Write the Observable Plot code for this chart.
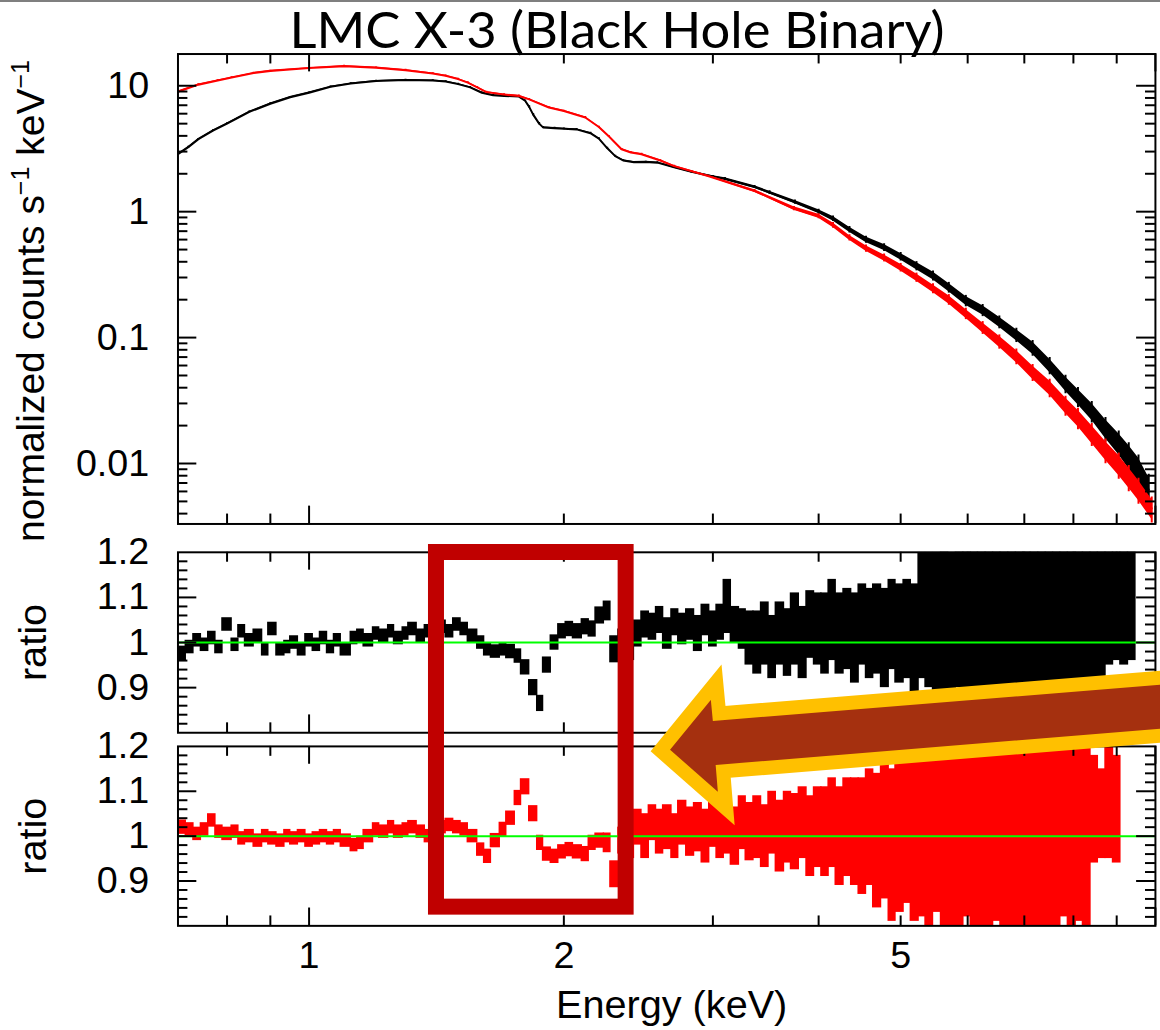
<!DOCTYPE html>
<html><head><meta charset="utf-8">
<script src="https://cdn.jsdelivr.net/npm/d3@7"></script>
<script src="https://cdn.jsdelivr.net/npm/@observablehq/plot@0.6"></script>
<style>
html,body{margin:0;padding:0;background:#fff;overflow:hidden;width:1160px;height:1030px;}
#fig{position:relative;width:1160px;height:1030px;overflow:hidden;}
#fig > svg{position:absolute;left:0;}
</style></head><body><div id="fig"></div>
<script>
// ---------------- text ----------------
const TITLE = "LMC X-3 (Black Hole Binary)";
const Y_TITLE_TOP_PARTS = ["normalized counts s", "\u22121", " keV", "\u22121"];
const Y_TITLE_RATIO = "ratio";
const X_TITLE = "Energy (keV)";

// ---------------- axes ----------------
const X_DOMAIN = [0.7, 10];
const X_MAJOR_TICKS = [1, 10];
const X_MINOR_TICKS = [0.8, 0.9, 2, 3, 4, 5, 6, 7, 8, 9];
const X_TICK_LABELS = [1, 2, 5];
const SPEC_DOMAIN = [0.00331, 17.86];
const SPEC_TICK_LABELS = [0.01, 0.1, 1, 10];
const RATIO_DOMAIN = [0.8, 1.2];
const RATIO_MAJOR_TICKS = [0.9, 1, 1.1];
const RATIO_TICK_LABELS = [0.9, 1, 1.1, 1.2];

// ---------------- spectra (normalized counts s^-1 keV^-1) ----------------
const SPEC_BLACK_E = [0.70,0.72,0.74,0.77,0.80,0.85,0.90,0.95,1.00,1.06,1.12,1.20,1.30,1.40,1.45,1.50,1.55,1.60,1.65,1.70,
  1.77,1.80,1.82,1.84,1.87,1.89,1.95,2.00,2.07,2.15,2.20,2.25,2.30,2.35,2.42,2.50,2.58,2.70,2.83,3.00,
  3.10,3.36,3.50,3.75,4.00,4.16,4.35,4.55,4.78,5.00,5.22,5.46,5.70,5.97,6.25,6.54,6.85,7.16,7.50,7.83,
  8.10,8.41,8.73,9.05,9.30,9.55,9.82];
const SPEC_BLACK_V = [2.86,3.25,3.76,4.4,5.0,6.2,7.2,8.1,8.8,9.8,10.4,10.9,11.1,11.0,10.8,10.3,9.7,8.8,8.4,8.3,
  8.2,7.6,6.8,5.9,5.0,4.67,4.6,4.55,4.5,4.2,3.8,3.2,2.76,2.55,2.47,2.48,2.45,2.25,2.07,1.9,
  1.82,1.57,1.42,1.19,1.0,0.88,0.72,0.60,0.52,0.44,0.37,0.31,0.25,0.196,0.165,0.133,0.105,0.083,0.060,0.043,
  0.034,0.026,0.019,0.0145,0.0115,0.009,0.0062];
const SPEC_BLACK_ERR = [.012,.012,.012,.012,.012,.012,.012,.012,.012,.012,.012,.012,.012,.012,.012,.012,.012,.012,.012,.012,
  .012,.012,.015,.015,.015,.012,.012,.012,.012,.012,.012,.012,.012,.012,.012,.012,.012,.015,.015,.015,
  .02,.022,.025,.03,.035,.04,.045,.05,.055,.06,.065,.07,.075,.08,.085,.09,.10,.11,.12,.13,
  .14,.15,.17,.19,.21,.23,.25];

const SPEC_RED_E = [0.70,0.74,0.78,0.81,0.86,0.90,1.00,1.10,1.20,1.30,1.40,1.45,1.50,1.54,1.58,1.62,1.70,1.77,1.82,1.92,
  2.00,2.12,2.20,2.26,2.34,2.40,2.47,2.60,2.70,2.96,3.36,3.74,4.00,4.16,4.35,4.55,4.78,5.00,5.22,5.46,
  5.70,5.97,6.25,6.54,6.85,7.16,7.50,7.83,8.10,8.41,8.73,9.05,9.30,9.55,9.90];
const SPEC_RED_V = [8.96,10.2,11.0,11.6,12.6,13.1,13.8,14.3,13.9,13.3,12.5,12.0,11.3,10.6,9.7,8.9,8.5,8.3,7.8,6.72,
  6.3,5.6,4.7,3.97,3.13,2.95,2.86,2.55,2.30,1.92,1.46,1.06,0.92,0.78,0.62,0.51,0.43,0.36,0.30,0.245,
  0.20,0.155,0.120,0.093,0.071,0.053,0.040,0.029,0.023,0.0172,0.0128,0.0098,0.0078,0.0062,0.0044];
const SPEC_RED_ERR = [.012,.012,.012,.012,.012,.012,.012,.012,.012,.012,.012,.012,.012,.012,.012,.012,.012,.012,.012,.012,
  .012,.012,.012,.012,.012,.012,.012,.012,.012,.012,.022,.03,.035,.04,.045,.05,.055,.06,.065,.07,
  .075,.08,.09,.10,.11,.12,.13,.14,.15,.16,.17,.18,.18,.18,.18];

// ---------------- ratio data (data / model), shared energy bins (keV edges) ----------------
const BIN_EDGES = [
  0.700,0.715,0.730,0.745,0.760,0.775,0.790,0.810,0.825,0.840,
  0.860,0.880,0.895,0.915,0.935,0.950,0.970,0.990,1.010,1.030,
  1.050,1.070,1.090,1.120,1.140,1.160,1.190,1.210,1.240,1.260,
  1.290,1.310,1.340,1.370,1.400,1.420,1.450,1.480,1.510,1.540,
  1.580,1.610,1.640,1.680,1.710,1.750,1.780,1.820,1.860,1.890,
  1.930,1.970,2.010,2.050,2.100,2.140,2.180,2.230,2.270,2.320,
  2.370,2.420,2.470,2.520,2.570,2.620,2.680,2.730,2.790,2.850,
  2.910,2.970,3.030,3.090,3.150,3.220,3.280,3.350,3.420,3.490,
  3.560,3.640,3.710,3.790,3.870,3.950,4.030,4.110,4.190,4.280,
  4.370,4.460,4.550,4.640,4.740,4.840,4.930,5.040,5.140,5.250,
  5.350,5.460,5.580,5.690,5.810,5.930,6.050,6.170,6.300,6.430,
  6.560,6.700,6.840,6.980,7.120,7.270,7.420,7.570,7.720,7.880,
  8.050,8.210,8.380,8.550,8.730,8.910,9.090,9.280,9.470,9.660];

const RATIO_BLACK = [
  0.975,0.99,1.005,0.995,1.01,0.99,1.04,0.995,1.025,1.005,
  1.015,0.985,1.03,0.985,0.99,1.0,0.985,1.005,0.995,1.01,
  0.99,1.005,0.985,1.01,1.015,1.005,1.02,1.015,1.025,1.01,
  1.02,1.03,1.015,1.025,1.02,1.035,1.025,1.04,1.03,1.015,
  1.0,0.985,0.98,0.985,0.98,0.97,0.945,0.90,0.865,0.95,
  1.0,1.025,1.03,1.025,1.035,1.03,1.06,1.07,0.985,1.0,
  1.0,1.02,1.04,1.035,1.05,1.02,1.045,1.03,1.04,1.02,
  1.05,1.03,1.045,1.08,1.04,1.03,1.01,1.0,1.02,0.99,
  1.02,1.0,1.03,1.0,1.04,1.03,1.02,1.05,1.02,1.03,
  1.01,1.04,1.02,1.03,1.01,1.04,1.02,1.03,1.01,1.06,
  1.05,1.04,1.05,1.03,1.06,1.04,1.05,1.03,1.06,1.04,
  1.05,1.03,1.06,1.04,1.05,1.03,1.06,1.04,1.05,1.07,
  1.05,1.06,1.04,1.08,1.10,1.12,1.10,1.12];
const RATIO_BLACK_ERR = [
  .017,.015,.015,.015,.015,.015,.015,.015,.015,.015,
  .015,.015,.015,.015,.015,.015,.015,.015,.015,.015,
  .015,.015,.015,.015,.015,.015,.015,.015,.015,.015,
  .015,.015,.015,.015,.015,.015,.015,.015,.015,.015,
  .015,.015,.015,.015,.016,.016,.017,.018,.018,.018,
  .017,.017,.017,.017,.018,.018,.019,.022,.03,.03,
  .04,.03,.03,.03,.03,.035,.03,.035,.035,.04,
  .035,.04,.04,.06,.04,.045,.06,.07,.07,.07,
  .07,.075,.08,.08,.075,.08,.09,.09,.09,.09,
  .10,.09,.10,.10,.11,.10,.11,.11,.12,.14,
  .15,.16,.16,.17,.16,.17,.17,.18,.17,.18,
  .18,.19,.18,.19,.19,.20,.19,.20,.20,.19,
  .20,.20,.21,.20,.15,.16,.15,.16];

const RATIO_RED = [
  1.02,1.015,1.005,1.015,1.035,1.01,1.005,1.01,0.995,1.0,
  0.99,1.0,0.995,0.99,1.0,0.995,1.0,0.99,0.995,1.0,
  0.995,1.0,0.99,0.98,0.985,1.0,1.015,1.01,1.02,1.01,
  1.015,1.02,1.01,1.0,1.005,1.02,1.025,1.02,1.015,1.0,
  0.97,0.955,0.99,1.015,1.04,1.085,1.11,1.05,0.985,0.96,
  0.955,0.965,0.97,0.965,0.96,0.985,0.99,0.985,0.915,0.99,
  1.0,1.02,1.0,1.03,1.01,1.02,1.0,1.03,1.01,1.02,
  1.0,1.03,1.01,1.02,1.0,1.03,1.01,1.02,1.0,1.03,
  1.0,1.02,1.01,1.03,1.0,1.02,1.01,1.03,1.0,1.02,
  1.01,1.0,1.02,0.99,1.01,0.98,1.0,1.01,0.99,1.0,
  0.98,1.01,0.99,1.0,0.98,1.01,0.99,1.0,0.98,1.01,
  0.99,1.0,0.98,1.0,0.99,1.01,0.98,1.0,1.02,1.0,
  1.01,0.99,1.06,1.05,1.08,1.06];
const RATIO_RED_ERR = [
  .016,.015,.015,.015,.015,.015,.015,.015,.015,.015,
  .015,.015,.015,.015,.015,.015,.015,.015,.015,.015,
  .015,.015,.015,.015,.015,.015,.015,.015,.015,.015,
  .015,.015,.015,.015,.015,.015,.015,.015,.015,.015,
  .015,.016,.016,.016,.016,.017,.018,.018,.017,.016,
  .016,.016,.016,.016,.017,.017,.017,.022,.03,.03,
  .05,.04,.05,.04,.05,.05,.05,.05,.055,.055,
  .06,.055,.06,.06,.065,.06,.065,.07,.07,.07,
  .08,.08,.085,.08,.09,.09,.10,.10,.11,.11,
  .12,.13,.13,.15,.15,.17,.17,.16,.18,.18,
  .19,.18,.19,.20,.20,.19,.20,.20,.21,.20,
  .21,.21,.22,.21,.22,.21,.22,.22,.20,.21,
  .20,.21,.12,.10,.13,.12];

// ---------------- annotations (data coordinates) ----------------
const BOX_E = [1.40, 2.335];          // keV
const BOX_TOP_RATIO = 1.2;            // on the black ratio panel
const BOX_BOTTOM_RATIO = 0.845;       // on the red ratio panel
const ARROW_E = [2.564, 2.981, 3.005, 11.0, 11.0, 3.038, 3.063];   // keV
const ARROW_R = [1.190, 1.341, 1.272, 1.358, 1.230, 1.144, 1.062]; // red-panel ratio units

// ---------------- colours ----------------
const C_BLACK = "#000000", C_RED = "#ff0000", C_GREEN = "#00ff00";
const C_BOX = "#c00000", C_ARROW_FILL = "#a5300f", C_ARROW_EDGE = "#ffc000";

// ---------------- build ----------------
const W = 1170, ML = 179, MR = 5.1;
const innerW = W - ML - MR;
const FONT = "'Liberation Sans', Arial, Helvetica, sans-serif";
const zip = (E, V, F) => E.slice(0, Math.min(E.length, V.length, F.length)).map((e, i) => ({E: e, v: V[i], f: F[i]}));
const specBlack = zip(SPEC_BLACK_E, SPEC_BLACK_V, SPEC_BLACK_ERR);
const specRed = zip(SPEC_RED_E, SPEC_RED_V, SPEC_RED_ERR);
const bins = (R, Er) => R.map((r, i) => ({e0: BIN_EDGES[i], e1: BIN_EDGES[i + 1], r, err: Er[i]})).filter(d => d.e1 != null);
const binsBlack = bins(RATIO_BLACK, RATIO_BLACK_ERR);
const binsRed = bins(RATIO_RED, RATIO_RED_ERR);

const logAll = d3.scaleLog().domain(SPEC_DOMAIN).ticks();
const isPow10 = v => Math.abs(Math.log10(v) - Math.round(Math.log10(v))) < 1e-9;
const SPEC_MAJOR = logAll.filter(isPow10);
const SPEC_MINOR = logAll.filter(v => !isPow10(v));
const RATIO_MINOR = d3.ticks(RATIO_DOMAIN[0], RATIO_DOMAIN[1], 20)
  .filter(v => Math.abs(v * 10 - Math.round(v * 10)) > 1e-6);

function frameTicks(innerH, yMajor, yMinor) {
  const s = {stroke: "black", strokeWidth: 2};
  return [
    Plot.ruleX(X_MAJOR_TICKS, {x: d => d, insetTop: innerH - 18, ...s}),
    Plot.ruleX(X_MAJOR_TICKS, {x: d => d, insetBottom: innerH - 18, ...s}),
    Plot.ruleX(X_MINOR_TICKS, {x: d => d, insetTop: innerH - 10, ...s}),
    Plot.ruleX(X_MINOR_TICKS, {x: d => d, insetBottom: innerH - 10, ...s}),
    Plot.ruleY(yMajor, {y: d => d, insetRight: innerW - 19, ...s}),
    Plot.ruleY(yMajor, {y: d => d, insetLeft: innerW - 19, ...s}),
    Plot.ruleY(yMinor, {y: d => d, insetRight: innerW - 10, ...s}),
    Plot.ruleY(yMinor, {y: d => d, insetLeft: innerW - 10, ...s})
  ];
}
const baseStyle = {fontFamily: FONT, fontSize: "38px", color: "black", background: "transparent", overflow: "visible"};

function specMarks(data, color) {
  return [
    Plot.areaY(data, {x: "E", y1: d => d.v * (1 - d.f), y2: d => d.v * (1 + d.f), fill: color, clip: true}),
    Plot.ruleX(data, {x: "E", y1: d => d.v * (1 - 1.3 * d.f), y2: d => d.v * (1 + 1.3 * d.f), stroke: color, strokeWidth: 2, clip: true}),
    Plot.line(data, {x: "E", y: "v", stroke: color, strokeWidth: 2, clip: true})
  ];
}

// top panel: spectra
const H1 = 532, MT1 = 54, MB1 = 4;
const c1 = Plot.plot({
  width: W, height: H1, marginLeft: ML, marginRight: MR, marginTop: MT1, marginBottom: MB1,
  style: baseStyle,
  x: {type: "log", domain: X_DOMAIN, axis: null, label: null},
  y: {type: "log", domain: SPEC_DOMAIN, axis: null, label: null},
  marks: [
    ...specMarks(specBlack, C_BLACK),
    ...specMarks(specRed, C_RED),
    Plot.frame({stroke: "black", strokeWidth: 2}),
    ...frameTicks(H1 - MT1 - MB1, SPEC_MAJOR, SPEC_MINOR),
    Plot.axisY({ticks: SPEC_TICK_LABELS, tickFormat: d => String(d), tickSize: 0, tickPadding: 29, fontSize: 38, label: null})
  ]
});
c1.style.top = "0px";

function ratioPanel(H, MT, MB, data, color, withXAxis) {
  return Plot.plot({
    width: W, height: H, marginLeft: ML, marginRight: MR, marginTop: MT, marginBottom: MB,
    style: baseStyle,
    x: {type: "log", domain: X_DOMAIN, axis: null, label: null},
    y: {type: "linear", domain: RATIO_DOMAIN, axis: null, label: null},
    marks: [
      Plot.rect(data, {x1: "e0", x2: "e1", y1: d => d.r - d.err, y2: d => d.r + d.err, fill: color,
        insetLeft: -0.7, insetRight: -0.7, clip: true}),
      Plot.ruleY([1], {stroke: C_GREEN, strokeWidth: 2}),
      Plot.frame({stroke: "black", strokeWidth: 2}),
      ...frameTicks(H - MT - MB, RATIO_MAJOR_TICKS, RATIO_MINOR),
      Plot.axisY({ticks: RATIO_TICK_LABELS, tickFormat: d => String(d), tickSize: 0, tickPadding: 29, fontSize: 38, label: null}),
      Plot.text([Y_TITLE_RATIO], {text: d => d, frameAnchor: "left", textAnchor: "middle", dx: -146, rotate: -90, fontSize: 40}),
      ...(withXAxis ? [
        Plot.axisX({ticks: X_TICK_LABELS, tickFormat: d => String(d), tickSize: 0, tickPadding: 16, fontSize: 38, label: null}),
        Plot.text([X_TITLE], {text: d => d, frameAnchor: "bottom", textAnchor: "middle", dx: 5, dy: 93, fontSize: 40})
      ] : [])
    ]
  });
}
const TOP2 = 530, H2 = 206, MT2 = 22, MB2 = 2;
const TOP3 = 736, H3 = 286, MT3 = 10, MB3 = 95;
const c2 = ratioPanel(H2, MT2, MB2, binsBlack, C_BLACK, false);
const c3 = ratioPanel(H3, MT3, MB3, binsRed, C_RED, true);
c2.style.top = TOP2 + "px";
c3.style.top = TOP3 + "px";

const fig = document.getElementById("fig");
fig.append(c1, c2, c3);

// ---------------- overlay: title, y title with superscripts, highlight box, arrow ----------------
function fn(s) {
  if (s && typeof s.apply === "function") return v => s.apply(v);
  const sc = (s.type === "log" ? d3.scaleLog() : d3.scaleLinear()).domain(s.domain).range(s.range);
  return v => sc(v);
}
const px = fn(c3.scale("x"));
const py2 = (f => r => TOP2 + f(r))(fn(c2.scale("y")));
const py3 = (f => r => TOP3 + f(r))(fn(c3.scale("y")));

const ov = d3.create("svg").attr("width", W).attr("height", 1030)
  .style("top", "0px").style("pointer-events", "none").style("overflow", "visible");
ov.append("rect").attr("x", 0).attr("y", 0).attr("width", 1160).attr("height", 2).attr("fill", "#7f7f7f");
ov.append("text").attr("x", 617).attr("y", 48).attr("text-anchor", "middle")
  .attr("font-family", "Lato, 'Open Sans', sans-serif").attr("font-size", 51)
  .attr("textLength", 655).attr("lengthAdjust", "spacingAndGlyphs").attr("fill", "black").text(TITLE);

// rotated y title of the spectrum panel, centred (slightly below) the panel's frame
const yMid = (MT1 + (H1 - MB1)) / 2 + 10;
const yt = ov.append("text").attr("transform", `translate(44,${yMid}) rotate(-90)`)
  .attr("text-anchor", "middle").attr("font-family", FONT).attr("font-size", 39).attr("fill", "black");
yt.append("tspan").text(Y_TITLE_TOP_PARTS[0]);
yt.append("tspan").attr("dy", -15).attr("font-size", 25).text(Y_TITLE_TOP_PARTS[1]);
yt.append("tspan").attr("dy", 15).text(Y_TITLE_TOP_PARTS[2]);
yt.append("tspan").attr("dy", -15).attr("font-size", 25).text(Y_TITLE_TOP_PARTS[3]);

const bx0 = px(BOX_E[0]), bx1 = px(BOX_E[1]);
const by0 = py2(BOX_TOP_RATIO), by1 = py3(BOX_BOTTOM_RATIO);
ov.append("rect").attr("x", bx0).attr("y", by0).attr("width", bx1 - bx0).attr("height", by1 - by0)
  .attr("fill", "none").attr("stroke", C_BOX).attr("stroke-width", 16);

const arrowPts = ARROW_E.map((e, i) => [px(e), py3(ARROW_R[i])]);
ov.append("polygon").attr("points", arrowPts.map(p => p.join(",")).join(" "))
  .attr("fill", C_ARROW_FILL).attr("stroke", C_ARROW_EDGE).attr("stroke-width", 14)
  .attr("stroke-linejoin", "miter").attr("stroke-miterlimit", 10);
fig.append(ov.node());
</script></body></html>
